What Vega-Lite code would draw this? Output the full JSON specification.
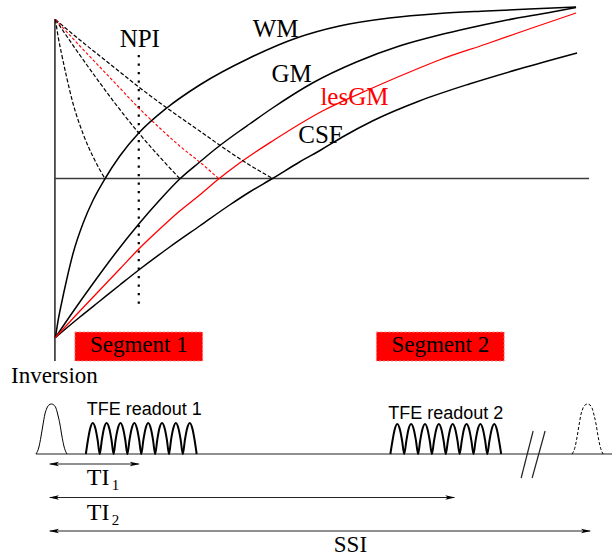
{
  "$schema": "https://vega.github.io/schema/vega-lite/v6.json",
  "width": 613,
  "height": 558,
  "autosize": {"type": "fit", "contains": "padding"},
  "padding": 0,
  "background": "white",
  "config": {"view": {"stroke": null}},
  "encoding": {
    "x": {"field": "x", "type": "quantitative", "scale": {"domain": [0, 613], "nice": false, "zero": false}, "axis": null},
    "y": {"field": "y", "type": "quantitative", "scale": {"domain": [0, 558], "nice": false, "zero": false, "reverse": true}, "axis": null}
  },
  "layer": [
    {
      "data": {"values": [
        {"x": 75, "x2": 203, "y": 332, "y2": 361, "n": "Segment 1"},
        {"x": 377, "x2": 505, "y": 332, "y2": 361, "n": "Segment 2"}
      ]},
      "mark": {"type": "rect", "fill": "#ff0000", "stroke": "#ff8a8a", "strokeWidth": 1, "strokeDash": [2, 2]},
      "encoding": {"x2": {"field": "x2"}, "y2": {"field": "y2"}}
    },
    {
      "data": {"values": [
        {"x": 55, "y": 19, "x2": 55, "y2": 361},
        {"x": 55, "y": 178.5, "x2": 590, "y2": 178.5}
      ]},
      "mark": {"type": "rule", "color": "#3c3c3c", "strokeWidth": 1.7},
      "encoding": {"x2": {"field": "x2"}, "y2": {"field": "y2"}}
    },
    {
      "data": {"values": [
        {"x": 36, "y": 454, "x2": 613, "y2": 454},
        {"x": 534, "y": 431, "x2": 522, "y2": 478},
        {"x": 546, "y": 431, "x2": 533, "y2": 478},
        {"x": 50, "y": 464, "x2": 139, "y2": 464},
        {"x": 50, "y": 497.5, "x2": 455, "y2": 497.5},
        {"x": 50, "y": 531, "x2": 591, "y2": 531}
      ]},
      "mark": {"type": "rule", "color": "#222222", "strokeWidth": 1.2},
      "encoding": {"x2": {"field": "x2"}, "y2": {"field": "y2"}}
    },
    {
      "data": {"values": [{"x": 139, "y": 55, "x2": 139, "y2": 304}]},
      "mark": {"type": "rule", "color": "black", "strokeWidth": 2.2, "strokeDash": [2.2, 6.3]},
      "encoding": {"x2": {"field": "x2"}, "y2": {"field": "y2"}}
    },
    {
      "data": {"values": [
        {"c": "WM", "x": 55.5, "y": 337.5}, {"c": "WM", "x": 58.3, "y": 320}, {"c": "WM", "x": 61.7, "y": 303}, {"c": "WM", "x": 66.7, "y": 280}, {"c": "WM", "x": 73.3, "y": 253}, {"c": "WM", "x": 83.3, "y": 223}, {"c": "WM", "x": 93.3, "y": 200}, {"c": "WM", "x": 105, "y": 179}, {"c": "WM", "x": 120, "y": 156}, {"c": "WM", "x": 139, "y": 133}, {"c": "WM", "x": 167, "y": 108}, {"c": "WM", "x": 200, "y": 85}, {"c": "WM", "x": 250, "y": 58}, {"c": "WM", "x": 297, "y": 38}, {"c": "WM", "x": 340, "y": 26}, {"c": "WM", "x": 390, "y": 18}, {"c": "WM", "x": 440, "y": 13.5}, {"c": "WM", "x": 487, "y": 11}, {"c": "WM", "x": 530, "y": 9}, {"c": "WM", "x": 577, "y": 7},
        {"c": "GM", "x": 55.5, "y": 337.5}, {"c": "GM", "x": 75, "y": 309}, {"c": "GM", "x": 95, "y": 281}, {"c": "GM", "x": 115, "y": 254}, {"c": "GM", "x": 139, "y": 224}, {"c": "GM", "x": 160, "y": 200}, {"c": "GM", "x": 180, "y": 179}, {"c": "GM", "x": 200, "y": 162}, {"c": "GM", "x": 217, "y": 148}, {"c": "GM", "x": 240, "y": 131}, {"c": "GM", "x": 250, "y": 124}, {"c": "GM", "x": 273, "y": 108}, {"c": "GM", "x": 313, "y": 83}, {"c": "GM", "x": 357, "y": 62}, {"c": "GM", "x": 400, "y": 46}, {"c": "GM", "x": 440, "y": 35}, {"c": "GM", "x": 470, "y": 28}, {"c": "GM", "x": 503, "y": 21}, {"c": "GM", "x": 553, "y": 12}, {"c": "GM", "x": 577, "y": 7.5},
        {"c": "CSF", "x": 55.5, "y": 337.5}, {"c": "CSF", "x": 80, "y": 317}, {"c": "CSF", "x": 100, "y": 301}, {"c": "CSF", "x": 120, "y": 285}, {"c": "CSF", "x": 139, "y": 270}, {"c": "CSF", "x": 170, "y": 247}, {"c": "CSF", "x": 200, "y": 226}, {"c": "CSF", "x": 230, "y": 205}, {"c": "CSF", "x": 250, "y": 192}, {"c": "CSF", "x": 273, "y": 178.5}, {"c": "CSF", "x": 300, "y": 162}, {"c": "CSF", "x": 323, "y": 149}, {"c": "CSF", "x": 343, "y": 137}, {"c": "CSF", "x": 373, "y": 121}, {"c": "CSF", "x": 420, "y": 101}, {"c": "CSF", "x": 470, "y": 84}, {"c": "CSF", "x": 520, "y": 69}, {"c": "CSF", "x": 578, "y": 53}
      ]},
      "mark": {"type": "line", "color": "black", "strokeWidth": 1.5, "interpolate": "monotone"},
      "encoding": {"detail": {"field": "c"}, "order": {"value": null}}
    },
    {
      "data": {"values": [
        {"c": "lesGM", "x": 55.5, "y": 337.5}, {"c": "lesGM", "x": 80, "y": 311}, {"c": "lesGM", "x": 100, "y": 290}, {"c": "lesGM", "x": 120, "y": 269}, {"c": "lesGM", "x": 139, "y": 249}, {"c": "lesGM", "x": 160, "y": 229}, {"c": "lesGM", "x": 180, "y": 211}, {"c": "lesGM", "x": 200, "y": 195}, {"c": "lesGM", "x": 219, "y": 179}, {"c": "lesGM", "x": 240, "y": 163}, {"c": "lesGM", "x": 273, "y": 141}, {"c": "lesGM", "x": 323, "y": 111}, {"c": "lesGM", "x": 373, "y": 88}, {"c": "lesGM", "x": 420, "y": 68}, {"c": "lesGM", "x": 440, "y": 60}, {"c": "lesGM", "x": 487, "y": 44}, {"c": "lesGM", "x": 530, "y": 29}, {"c": "lesGM", "x": 577, "y": 13}
      ]},
      "mark": {"type": "line", "color": "#ff0000", "strokeWidth": 1.3, "interpolate": "monotone"},
      "encoding": {"order": {"value": null}}
    },
    {
      "data": {"values": [
        {"c": "WM", "x": 55.5, "y": 19.5}, {"c": "WM", "x": 58.3, "y": 37}, {"c": "WM", "x": 61.7, "y": 54}, {"c": "WM", "x": 66.7, "y": 77}, {"c": "WM", "x": 73.3, "y": 104}, {"c": "WM", "x": 83.3, "y": 134}, {"c": "WM", "x": 93.3, "y": 157}, {"c": "WM", "x": 105, "y": 178.5},
        {"c": "GM", "x": 55.5, "y": 19.5}, {"c": "GM", "x": 75, "y": 48}, {"c": "GM", "x": 95, "y": 76}, {"c": "GM", "x": 115, "y": 103}, {"c": "GM", "x": 139, "y": 133}, {"c": "GM", "x": 160, "y": 157}, {"c": "GM", "x": 180, "y": 178.5},
        {"c": "CSF", "x": 55.5, "y": 19.5}, {"c": "CSF", "x": 80, "y": 40}, {"c": "CSF", "x": 100, "y": 56}, {"c": "CSF", "x": 120, "y": 72}, {"c": "CSF", "x": 139, "y": 87}, {"c": "CSF", "x": 170, "y": 110}, {"c": "CSF", "x": 200, "y": 131}, {"c": "CSF", "x": 230, "y": 152}, {"c": "CSF", "x": 250, "y": 165}, {"c": "CSF", "x": 273, "y": 178.5}
      ]},
      "mark": {"type": "line", "color": "black", "strokeWidth": 1.2, "strokeDash": [4, 2], "interpolate": "monotone"},
      "encoding": {"detail": {"field": "c"}, "order": {"value": null}}
    },
    {
      "data": {"values": [
        {"c": "lesGM", "x": 55.5, "y": 19.5}, {"c": "lesGM", "x": 80, "y": 46}, {"c": "lesGM", "x": 100, "y": 67}, {"c": "lesGM", "x": 120, "y": 88}, {"c": "lesGM", "x": 139, "y": 108}, {"c": "lesGM", "x": 160, "y": 128}, {"c": "lesGM", "x": 180, "y": 146}, {"c": "lesGM", "x": 200, "y": 162}, {"c": "lesGM", "x": 219, "y": 178.5}
      ]},
      "mark": {"type": "line", "color": "#ff0000", "strokeWidth": 1.1, "strokeDash": [3, 2], "interpolate": "monotone"},
      "encoding": {"order": {"value": null}}
    },
    {
      "data": {"values": [
        {"x": 36, "y": 454}, {"x": 39, "y": 447}, {"x": 41, "y": 437}, {"x": 43, "y": 425}, {"x": 45, "y": 414}, {"x": 47, "y": 408}, {"x": 49, "y": 405}, {"x": 51.5, "y": 404}, {"x": 54, "y": 405}, {"x": 56, "y": 408}, {"x": 58, "y": 415}, {"x": 60, "y": 424}, {"x": 62, "y": 436}, {"x": 64, "y": 446}, {"x": 67, "y": 454}
      ]},
      "mark": {"type": "line", "color": "black", "strokeWidth": 1, "interpolate": "monotone"},
      "encoding": {"order": {"value": null}}
    },
    {
      "data": {"values": [
        {"x": 573, "y": 454}, {"x": 576, "y": 447}, {"x": 578, "y": 437}, {"x": 580, "y": 425}, {"x": 582, "y": 414}, {"x": 584, "y": 408}, {"x": 586, "y": 405}, {"x": 588.5, "y": 404}, {"x": 591, "y": 405}, {"x": 593, "y": 408}, {"x": 595, "y": 415}, {"x": 597, "y": 424}, {"x": 599, "y": 436}, {"x": 601, "y": 446}, {"x": 604, "y": 454}
      ]},
      "mark": {"type": "line", "color": "black", "strokeWidth": 1, "strokeDash": [3, 2], "interpolate": "monotone"},
      "encoding": {"order": {"value": null}}
    },
    {
      "data": {"values": [
        {"r": "1", "x": 86, "y": 454}, {"r": "1", "x": 88.1, "y": 440}, {"r": "1", "x": 90.2, "y": 429}, {"r": "1", "x": 92.9, "y": 423}, {"r": "1", "x": 95.7, "y": 429}, {"r": "1", "x": 97.8, "y": 440},
        {"r": "1", "x": 99.9, "y": 454}, {"r": "1", "x": 102.0, "y": 440}, {"r": "1", "x": 104.0, "y": 429}, {"r": "1", "x": 106.8, "y": 423}, {"r": "1", "x": 109.6, "y": 429}, {"r": "1", "x": 111.7, "y": 440},
        {"r": "1", "x": 113.8, "y": 454}, {"r": "1", "x": 115.8, "y": 440}, {"r": "1", "x": 117.9, "y": 429}, {"r": "1", "x": 120.7, "y": 423}, {"r": "1", "x": 123.4, "y": 429}, {"r": "1", "x": 125.5, "y": 440},
        {"r": "1", "x": 127.6, "y": 454}, {"r": "1", "x": 129.7, "y": 440}, {"r": "1", "x": 131.8, "y": 429}, {"r": "1", "x": 134.6, "y": 423}, {"r": "1", "x": 137.3, "y": 429}, {"r": "1", "x": 139.4, "y": 440},
        {"r": "1", "x": 141.5, "y": 454}, {"r": "1", "x": 143.6, "y": 440}, {"r": "1", "x": 145.7, "y": 429}, {"r": "1", "x": 148.4, "y": 423}, {"r": "1", "x": 151.2, "y": 429}, {"r": "1", "x": 153.3, "y": 440},
        {"r": "1", "x": 155.4, "y": 454}, {"r": "1", "x": 157.5, "y": 440}, {"r": "1", "x": 159.5, "y": 429}, {"r": "1", "x": 162.3, "y": 423}, {"r": "1", "x": 165.1, "y": 429}, {"r": "1", "x": 167.2, "y": 440},
        {"r": "1", "x": 169.3, "y": 454}, {"r": "1", "x": 171.3, "y": 440}, {"r": "1", "x": 173.4, "y": 429}, {"r": "1", "x": 176.2, "y": 423}, {"r": "1", "x": 178.9, "y": 429}, {"r": "1", "x": 181.0, "y": 440},
        {"r": "1", "x": 183.1, "y": 454}, {"r": "1", "x": 185.2, "y": 440}, {"r": "1", "x": 187.3, "y": 429}, {"r": "1", "x": 190.1, "y": 423}, {"r": "1", "x": 192.8, "y": 429}, {"r": "1", "x": 194.9, "y": 440},
        {"r": "1", "x": 197.0, "y": 454},
        {"r": "2", "x": 391, "y": 454}, {"r": "2", "x": 393.1, "y": 441}, {"r": "2", "x": 395.2, "y": 430}, {"r": "2", "x": 397.9, "y": 424}, {"r": "2", "x": 400.7, "y": 430}, {"r": "2", "x": 402.8, "y": 441},
        {"r": "2", "x": 404.9, "y": 454}, {"r": "2", "x": 407.0, "y": 441}, {"r": "2", "x": 409.0, "y": 430}, {"r": "2", "x": 411.8, "y": 424}, {"r": "2", "x": 414.6, "y": 430}, {"r": "2", "x": 416.7, "y": 441},
        {"r": "2", "x": 418.8, "y": 454}, {"r": "2", "x": 420.8, "y": 441}, {"r": "2", "x": 422.9, "y": 430}, {"r": "2", "x": 425.7, "y": 424}, {"r": "2", "x": 428.4, "y": 430}, {"r": "2", "x": 430.5, "y": 441},
        {"r": "2", "x": 432.6, "y": 454}, {"r": "2", "x": 434.7, "y": 441}, {"r": "2", "x": 436.8, "y": 430}, {"r": "2", "x": 439.6, "y": 424}, {"r": "2", "x": 442.3, "y": 430}, {"r": "2", "x": 444.4, "y": 441},
        {"r": "2", "x": 446.5, "y": 454}, {"r": "2", "x": 448.6, "y": 441}, {"r": "2", "x": 450.7, "y": 430}, {"r": "2", "x": 453.4, "y": 424}, {"r": "2", "x": 456.2, "y": 430}, {"r": "2", "x": 458.3, "y": 441},
        {"r": "2", "x": 460.4, "y": 454}, {"r": "2", "x": 462.5, "y": 441}, {"r": "2", "x": 464.5, "y": 430}, {"r": "2", "x": 467.3, "y": 424}, {"r": "2", "x": 470.1, "y": 430}, {"r": "2", "x": 472.2, "y": 441},
        {"r": "2", "x": 474.3, "y": 454}, {"r": "2", "x": 476.3, "y": 441}, {"r": "2", "x": 478.4, "y": 430}, {"r": "2", "x": 481.2, "y": 424}, {"r": "2", "x": 483.9, "y": 430}, {"r": "2", "x": 486.0, "y": 441},
        {"r": "2", "x": 488.1, "y": 454}, {"r": "2", "x": 490.2, "y": 441}, {"r": "2", "x": 492.3, "y": 430}, {"r": "2", "x": 495.1, "y": 424}, {"r": "2", "x": 497.8, "y": 430}, {"r": "2", "x": 499.9, "y": 441},
        {"r": "2", "x": 502.0, "y": 454}
      ]},
      "mark": {"type": "line", "color": "black", "strokeWidth": 2, "interpolate": "monotone"},
      "encoding": {"detail": {"field": "r"}, "order": {"value": null}}
    },
    {
      "data": {"values": [{"x": 54, "y": 464}, {"x": 54, "y": 497.5}, {"x": 54, "y": 531}]},
      "mark": {"type": "point", "shape": "M-1,0L1,-0.45L0.55,0L1,0.45Z", "filled": true, "color": "black", "size": 100, "opacity": 1, "strokeWidth": 0}
    },
    {
      "data": {"values": [{"x": 135, "y": 464}, {"x": 451, "y": 497.5}, {"x": 587, "y": 531}]},
      "mark": {"type": "point", "shape": "M1,0L-1,-0.45L-0.55,0L-1,0.45Z", "filled": true, "color": "black", "size": 100, "opacity": 1, "strokeWidth": 0}
    },
    {
      "data": {"values": [
        {"x": 140, "y": 47, "t": "NPI"},
        {"x": 276, "y": 37, "t": "WM"},
        {"x": 292, "y": 82, "t": "GM"},
        {"x": 321, "y": 143, "t": "CSF"}
      ]},
      "mark": {"type": "text", "font": "Liberation Serif", "fontSize": 25, "color": "black", "align": "center", "baseline": "alphabetic"},
      "encoding": {"text": {"field": "t"}}
    },
    {
      "data": {"values": [{"x": 355, "y": 105, "t": "lesGM"}]},
      "mark": {"type": "text", "font": "Liberation Serif", "fontSize": 25, "color": "#ff0000", "align": "center", "baseline": "alphabetic"},
      "encoding": {"text": {"field": "t"}}
    },
    {
      "data": {"values": [
        {"x": 139, "y": 352, "t": "Segment 1"},
        {"x": 441, "y": 352, "t": "Segment 2"},
        {"x": 54.5, "y": 383, "t": "Inversion"},
        {"x": 351, "y": 552, "t": "SSI"}
      ]},
      "mark": {"type": "text", "font": "Liberation Serif", "fontSize": 23, "color": "black", "align": "center", "baseline": "alphabetic"},
      "encoding": {"text": {"field": "t"}}
    },
    {
      "data": {"values": [
        {"x": 87, "y": 485, "t": "TI"},
        {"x": 87, "y": 520, "t": "TI"}
      ]},
      "mark": {"type": "text", "font": "Liberation Serif", "fontSize": 24, "color": "black", "align": "left", "baseline": "alphabetic"},
      "encoding": {"text": {"field": "t"}}
    },
    {
      "data": {"values": [
        {"x": 112, "y": 490, "t": "1"},
        {"x": 112, "y": 525, "t": "2"}
      ]},
      "mark": {"type": "text", "font": "Liberation Serif", "fontSize": 15, "color": "black", "align": "left", "baseline": "alphabetic"},
      "encoding": {"text": {"field": "t"}}
    },
    {
      "data": {"values": [
        {"x": 144.5, "y": 415, "t": "TFE readout 1"},
        {"x": 446.5, "y": 419, "t": "TFE readout 2"}
      ]},
      "mark": {"type": "text", "font": "Liberation Sans", "fontSize": 18, "color": "black", "align": "center", "baseline": "alphabetic"},
      "encoding": {"text": {"field": "t"}}
    }
  ]
}
